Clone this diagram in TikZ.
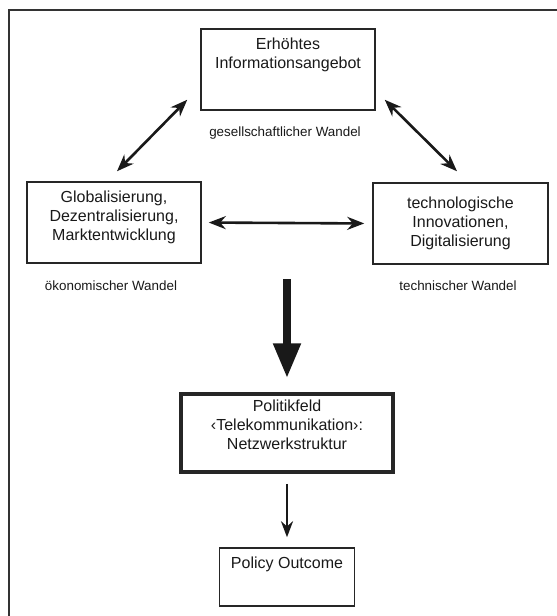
\documentclass[tikz,border=0pt]{standalone}
\usepackage{fontspec}
\setmainfont{Liberation Sans}
\usetikzlibrary{arrows.meta}

\begin{document}
\begin{tikzpicture}[x=1pt, y=-1pt,
    box/.style={draw, black!85, text=black!90, line width=1.5pt, align=center,
        inner sep=0pt, font=\fontsize{16}{19}\selectfont},
    wandel/.style={text=black!90, font=\fontsize{13.4}{16}\selectfont},
    dblarrow/.style={{Stealth[length=17pt,width=13pt]}-{Stealth[length=17pt,width=13pt]},
        line width=2.6pt, black!90}]

    \useasboundingbox (0,0) rectangle (557,616);

    % Frame
    \draw[line width=2.5pt, black!80] (9,10) rectangle (640,700);

    % Boxes
    \node[box, minimum width=174pt, minimum height=81pt] (info) at (288,69.5)
        {Erhöhtes\\Informationsangebot\\[14.5pt]\mbox{}};
    \node[box, minimum width=174pt, minimum height=81pt] (oekon) at (114,222.5)
        {Globalisierung,\\Dezentralisierung,\\Marktentwicklung\\[-5.5pt]\mbox{}};
    \node[box, minimum width=175pt, minimum height=81pt] (techn) at (460.5,223.5)
        {technologische\\Innovationen,\\Digitalisierung};
    \node[box, line width=3.5pt, minimum width=212pt, minimum height=78pt] (polfeld) at (287,433)
        {Politikfeld\\‹Telekommunikation›:\\Netzwerkstruktur\\[-2.5pt]\mbox{}};
    \node[box, minimum width=135pt, minimum height=58pt] (outcome) at (287,577)
        {Policy Outcome\\[10.5pt]\mbox{}};

    % Wandel labels
    \node[wandel] (gesell) at (285,133) {gesellschaftlicher Wandel};
    \node[wandel] (oekwandel) at (111,286) {ökonomischer Wandel};
    \node[wandel] (techwandel) at (458,286) {technischer Wandel};

    % Double arrows
    \draw[dblarrow] ([shift={(-13pt,11pt)}]info.south west) -- ([shift={(3pt,10pt)}]oekon.north);
    \draw[dblarrow] ([shift={(9pt,11pt)}]info.south east) -- ([shift={(-3.5pt,11pt)}]techn.north);
    \draw[dblarrow, shorten <=7pt, shorten >=8pt] (oekon.east) -- (techn.west);

    % Main arrow
    \coordinate (start) at (287,279);
    \draw[line width=8pt, black!90, -{Triangle[length=35pt,width=26pt]}]
        (start) -- ([yshift=14pt]polfeld.north);

    \draw[line width=2.6pt, black!90, -{Stealth[length=16pt,width=12pt]},
        shorten <=10pt, shorten >=10pt] (polfeld.south) -- (outcome.north);

\end{tikzpicture}
\end{document}
